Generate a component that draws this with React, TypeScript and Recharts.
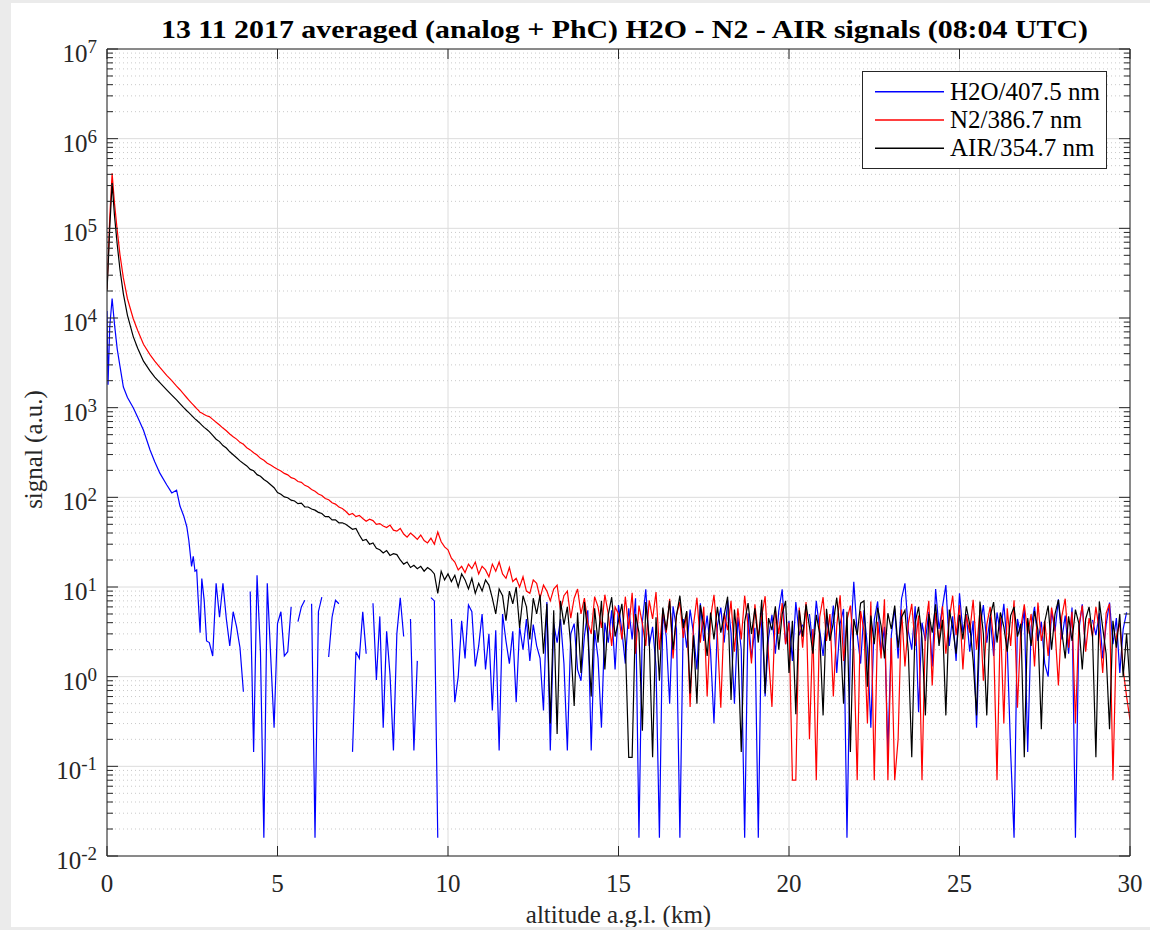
import React from 'react';
import { LineChart, Line, XAxis, YAxis, CartesianGrid } from 'recharts';

const TITLE = '13 11 2017 averaged (analog + PhC) H2O - N2 - AIR signals (08:04 UTC)';
const X_LABEL = 'altitude a.g.l. (km)';
const Y_LABEL = 'signal (a.u.)';
const X_TICKS = [0, 5, 10, 15, 20, 25, 30];
const Y_EXPONENTS = [-2, -1, 0, 1, 2, 3, 4, 5, 6, 7];
const MINOR_MULTIPLIERS = [2, 3, 4, 5, 6, 7, 8, 9];
const SERIES_NAMES = ['H2O/407.5 nm', 'N2/386.7 nm', 'AIR/354.7 nm'];
const SERIES_COLORS = ['#0000ff', '#ff0000', '#000000'];

// near-field altitudes (km)
const NEAR_ALT = [0, 0.03, 0.08, 0.15, 0.22, 0.3, 0.38, 0.48, 0.6, 0.77, 0.9, 1.07, 1.26, 1.4, 1.55, 1.75, 1.9, 2.04, 2.14, 2.25, 2.34, 2.4, 2.48, 2.53, 2.58, 2.63, 2.67, 2.73, 2.78, 2.85, 2.92];
// far-field range bins: 3.0 km to 30.0 km every 0.1 km
const FAR_START_KM = 3.0;
const FAR_STEP_KM = 0.1;

const H2O_NEAR = [12000, 1800, 8000, 16500, 8500, 4500, 2900, 1700, 1300, 1000, 780, 560, 340, 250, 186, 138, 112, 120, 80, 62, 47, 33, 17, 22, 15, 15.5, 7.8, 3.1, 12.4, 7.1, 2.5];
const N2_NEAR = [21000, 40000, 130000, 410000, 190000, 95000, 51000, 28000, 16400, 9800, 7250, 5100, 3900, 3300, 2820, 2290, 2000, 1740, 1585, 1413, 1290, 1216, 1122, 1072, 1023, 977, 944, 891, 871, 841, 813];
const AIR_NEAR = [20000, 35000, 100000, 320000, 138000, 66000, 34700, 18600, 10700, 6200, 4600, 3300, 2570, 2190, 1900, 1580, 1380, 1220, 1110, 1000, 923, 881, 822, 785, 750, 724, 700, 668, 638, 603, 575];

const H2O_FAR = [
  2.4, 1.7, 11, 4.6, 11, 4.4, 2.2, 5.3, 3.6, 2.1,
  0.68, null, 8.9, 0.145, 13.5, 1.9, 0.016, 11, 1.7, 0.27,
  3.9, 5.3, 1.7, 1.9, 6.0, null, 4.1, 6.0, 7.1, null,
  6.5, 0.016, 5.3, 7.7, null, 1.66, 4.6, 7.1, 6.5, null,
  2.4, null, 0.145, 1.9, 1.6, 5.3, 1.8, null, 6.6, 0.92,
  4.7, 0.27, 3.2, 1.05, 0.15, 3.0, 7.6, 2.8, null, 4.4,
  0.15, 1.5, null, null, null, 7.6, 7.0, 0.016, null, 4.0,
  null, 4.4, 0.52, 1.0, 4.2, 1.6, 6.3, 5.3, 1.3, 2.2,
  5.0, 1.2, 3.0, 0.42, 3.3, 0.15, 5.0, 2.5, 1.4, 3.2,
  0.52, 3.6, 2.0, 4.4, 1.5, 3.8, 2.2, 1.6, 0.42, 6.8,
  0.15, 3.9, 2.4, 4.4, 1.4, 0.15, 3.0, 3.9, 1.2, 0.9,
  2.8, 5.5, 0.15, 3.3, 1.6, 0.27, 4.0, 2.4, 5.5, 1.2,
  6.3, 3.2, 1.4, 5.8, 2.6, 7.5, 0.016, 4.1, 9.4, 2.2,
  3.6, 1.3, 0.016, 5.2, 2.8, 0.5, 6.1, 3.4, 0.016, 4.4,
  2.1, 5.6, 3.0, 1.2, 6.6, 2.5, 4.8, 1.9, 0.3, 3.7,
  5.9, 2.4, 7.2, 3.1, 0.5, 4.6, 2.0, 0.016, 5.1, 1.6,
  3.5, 0.016, 6.0, 0.6, 2.7, 4.9, 1.8, 5.4, 9.4, 2.3,
  4.2, 1.5, 6.8, 2.9, 3.8, null, 5.0, 2.2, 7.0, 3.3,
  1.7, 4.5, 2.6, 6.2, 1.1, 3.9, 5.7, 0.016, 2.4, 11.4,
  3.0, 1.4, 5.5, 2.1, 0.27, 4.3, 6.9, 1.8, 3.6, 0.145,
  2.9, 5.8, 1.6, 7.4, 11.0, 3.2, 2.0, 6.1, 0.4, 4.0,
  2.5, 5.3, 1.3, 9.5, 3.4, 6.0, 10.5, 2.2, 4.7, 1.5,
  8.5, 3.1, 5.0, 1.9, 4.2, 0.27, 3.5, 6.3, 2.4, 4.6,
  1.7, 5.2, 3.0, 6.5, 2.2, 0.145, 0.016, 4.4, 2.8, 5.7,
  0.145, 3.6, 6.0, 2.5, 4.1, 1.4, 1.0, 5.5, 3.2, 7.3,
  2.6, 4.8, 1.8, 5.9, 0.016, 3.3, 6.4, 2.0, null, 4.3,
  2.9, 5.1, 1.6, 3.8, 6.7, 2.3, 4.5, 1.1, 3.4, 5.2,
  null,
];

const N2_FAR = [
  795, 740, 688, 640, 592, 553, 508, 474, 446, 410,
  390, 358, 338, 314, 296, 272, 259, 240, 229, 216,
  206, 197, 185, 178, 166, 161, 150, 147, 136, 131,
  122, 117, 109, 105, 97, 94, 87, 84, 78, 75,
  70, 64, 66, 61, 63, 58, 54, 57, 55, 50,
  51, 48, 46, 49, 43, 42, 45, 39, 36, 40,
  37, 34, 38, 33, 31, 35, 30, 41, 32, 28,
  26, 21, 19, 15.5, 17, 14.5, 18, 16, 19, 14,
  17, 15.5, 13, 18, 15, 19, 14, 12.5, 16.5, 11.5,
  12.5, 10, 13, 9.0, 8.5, 12, 11, 7.5, 10.5, 9.0,
  7.0, 9.5, 10.5, 5.5, 8.0, 9.0, 4.5, 7.5, 9.5, 5.0,
  7.5, 4.0, 3.0, 7.8, 6.0, 3.5, 8.2, 5.0, 2.2, 6.0,
  5.0, 2.6, 7.8, 3.4, 8.6, 1.8, 6.2, 3.9, 2.2, 7.1,
  4.4, 8.8, 2.0, 5.6, 3.1, 7.4, 1.6, 4.9, 6.8, 2.7,
  5.3, 0.46, 3.8, 7.6, 2.4, 6.0, 0.6, 4.5, 8.2, 2.9,
  0.45, 5.1, 3.3, 7.0, 1.9, 5.8, 2.6, 8.0, 3.6, 1.4,
  6.4, 2.8, 4.7, 7.9, 1.7, 0.46, 5.5, 3.0, 6.6, 2.3,
  4.0, 0.07, 0.07, 5.9, 2.1, 6.8, 0.2, 3.4, 0.07, 4.6,
  7.7, 2.5, 5.0, 0.6, 3.7, 8.1, 1.5, 4.3, 6.2, 2.0,
  0.07, 5.4, 3.2, 0.3, 6.9, 0.07, 4.1, 1.6, 7.3, 0.07,
  2.7, 0.07, 0.2, 5.6, 1.3, 3.9, 6.5, 2.2, 4.8, 0.07,
  3.5, 7.0, 0.8, 5.2, 2.4, 6.1, 1.8, 4.4, 8.0, 2.9,
  6.3, 1.2, 4.9, 3.1, 7.2, 2.0, 5.5, 0.9, 3.8, 6.0,
  2.6, 0.07, 4.6, 0.3, 5.8, 2.2, 7.1, 0.45, 3.6, 6.4,
  3.0, 5.0, 1.3, 6.7, 2.5, 4.2, 1.7, 5.9, 3.4, 0.8,
  4.7, 7.4, 2.1, 5.3, 0.3, 3.7, 6.2, 1.9, 4.5, 2.8,
  6.0, 3.2, 1.1, 5.1, 6.5, 0.07, 2.8, 4.0, 1.2, 0.6,
  0.33,
];

const AIR_FAR = [
  540, 492, 445, 418, 378, 355, 322, 298, 276, 255,
  238, 224, 205, 198, 179, 172, 158, 149, 138, 128,
  113, 108, 101, 99, 93, 91, 85, 86, 78, 78,
  74, 72, 68, 66, 61, 61, 56, 56, 52, 52,
  50, 47, 44, 45, 38, 33, 34, 30, 31, 27,
  26, 24, 25.5, 22.5, 23.5, 23, 20, 18, 19, 16.5,
  17.5, 16, 17, 15, 16.5, 15.5, 14, 8.5, 15, 12,
  14, 11.5, 13.5, 10, 14, 12, 9.5, 12.5, 8.5, 11,
  9.0, 12, 10.5, 7.5, 5.0, 9.5, 8.0, 4.2, 9.0, 6.5,
  10, 3.5, 8.0, 6.0, 2.6, 7.5, 5.0, 8.2, 1.8, 6.5,
  0.3, 5.5, 0.23, 7.0, 3.8, 6.0, 2.2, 0.47, 5.2, 1.1,
  6.8, 3.0, 0.6, 5.8, 2.4, 7.0, 1.2, 4.9, 7.7, 2.8,
  4.2, 6.5, 2.4, 0.126, 0.126, 5.0, 3.1, 0.25, 6.8, 2.7,
  0.126, 4.6, 0.9, 5.9, 3.3, 7.0, 2.0, 4.8, 8.0, 3.5,
  5.4, 0.65, 2.9, 0.5, 6.3, 3.8, 1.7, 5.2, 2.6, 6.0,
  3.1, 4.9, 7.8, 0.55, 5.6, 2.2, 0.145, 4.1, 6.6, 3.0,
  5.8, 2.4, 7.2, 0.65, 4.5, 3.3, 6.1, 2.0, 5.0, 7.0,
  1.1, 4.2, 0.38, 5.5, 2.8, 6.4, 3.6, 1.8, 4.9, 3.0,
  0.37, 5.7, 2.5, 4.0, 7.6, 3.2, 0.5, 5.3, 0.145, 4.4,
  2.9, 6.6, 7.0, 0.77, 4.8, 2.3, 5.9, 3.7, 1.6, 5.1,
  3.4, 6.2, 2.1, 4.6, 5.5, 1.9, 0.126, 4.0, 6.0, 2.7,
  0.37, 5.0, 3.1, 6.4, 2.2, 4.3, 0.37, 5.6, 3.5, 1.8,
  4.9, 2.6, 6.1, 3.8, 1.5, 0.37, 6.9, 3.0, 0.37, 4.7,
  6.8, 2.4, 5.2, 3.6, 1.9, 4.8, 6.0, 2.8, 3.9, 0.126,
  4.5, 2.2, 5.4, 3.3, 0.26, 4.1, 6.2, 2.0, 5.0, 7.2,
  3.2, 1.6, 4.7, 2.5, 5.6, 3.9, 1.2, 4.4, 6.0, 2.9,
  0.126, 6.9, 3.5, 1.8, 0.26, 4.2, 2.1, 5.0, 1.0, 3.0,
  0.8,
];

const AXIS_COLOR = '#262626';
const FONT = "'Liberation Serif', 'Times New Roman', Times, serif";

function buildRows(near: number[], far: (number | null)[]) {
  const rows: { alt: number; v: number | null }[] = NEAR_ALT.map((alt, i) => ({ alt, v: near[i] }));
  far.forEach((v, i) => {
    rows.push({ alt: Math.round((FAR_START_KM + i * FAR_STEP_KM) * 100) / 100, v });
  });
  return rows;
}

const SERIES_ROWS = [
  buildRows(H2O_NEAR, H2O_FAR),
  buildRows(N2_NEAR, N2_FAR),
  buildRows(AIR_NEAR, AIR_FAR),
];

const DECADES = Y_EXPONENTS.map((e) => Math.pow(10, e));
const MINORS: number[] = [];
Y_EXPONENTS.slice(0, -1).forEach((e) => {
  MINOR_MULTIPLIERS.forEach((m) => MINORS.push(m * Math.pow(10, e)));
});
const ALL_Y_TICKS = [...DECADES, ...MINORS].sort((a, b) => a - b);

function decadeExponent(v: number): number | null {
  const l = Math.log10(v);
  const r = Math.round(l);
  return Math.abs(l - r) < 1e-6 ? r : null;
}

const LeftTick = (props: any) => {
  const { x, y, payload } = props;
  const exp = decadeExponent(payload.value);
  const major = exp !== null;
  return (
    <g>
      <line x1={x} x2={x + (major ? 11 : 6)} y1={y} y2={y} stroke={AXIS_COLOR} strokeWidth={1} />
      {major && (
        <text x={x - 10} y={y + 13} textAnchor="end" fontFamily={FONT} fontSize={25} fill={AXIS_COLOR}>
          10
          <tspan dy={-9} fontSize={19}>{String(exp)}</tspan>
        </text>
      )}
    </g>
  );
};

const RightTick = (props: any) => {
  const { x, y, payload } = props;
  const major = decadeExponent(payload.value) !== null;
  return <line x1={x} x2={x - (major ? 11 : 6)} y1={y} y2={y} stroke={AXIS_COLOR} strokeWidth={1} />;
};

const BottomTick = (props: any) => {
  const { x, y, payload } = props;
  return (
    <g>
      <line x1={x} x2={x} y1={y} y2={y - 10} stroke={AXIS_COLOR} strokeWidth={1} />
      <text x={x} y={y + 36} textAnchor="middle" fontFamily={FONT} fontSize={25} fill={AXIS_COLOR}>
        {payload.value}
      </text>
    </g>
  );
};

const TopTick = (props: any) => {
  const { x, y } = props;
  return <line x1={x} x2={x} y1={y} y2={y + 10} stroke={AXIS_COLOR} strokeWidth={1} />;
};

const renderTitle = (p: any) => {
  const vb = p.viewBox || { x: 107, y: 48, width: 1023, height: 1 };
  return (
    <text
      x={vb.x + vb.width / 2 + 6}
      y={vb.y - 10.5}
      textAnchor="middle"
      fontFamily={FONT}
      fontWeight="bold"
      fontSize={26}
      fill="#000"
      textLength={927}
      lengthAdjust="spacingAndGlyphs"
    >
      {TITLE}
    </text>
  );
};

const renderXLabel = (p: any) => {
  const vb = p.viewBox || { x: 107, y: 856, width: 1023, height: 74 };
  return (
    <text x={vb.x + vb.width / 2} y={vb.y + 67} textAnchor="middle" fontFamily={FONT} fontSize={25} fill={AXIS_COLOR}>
      {X_LABEL}
    </text>
  );
};

const renderYLabel = (p: any) => {
  const vb = p.viewBox || { x: 0, y: 49, width: 107, height: 807 };
  const cx = vb.x + 42;
  const cy = vb.y + vb.height / 2 - 3;
  return (
    <text
      x={cx}
      y={cy}
      transform={`rotate(-90, ${cx}, ${cy})`}
      textAnchor="middle"
      fontFamily={FONT}
      fontSize={25}
      fill={AXIS_COLOR}
    >
      {Y_LABEL}
    </text>
  );
};

const LegendBox = () => (
  <svg width={245} height={98} style={{ position: 'absolute', left: 862, top: 71 }}>
    <rect x={0.5} y={0.5} width={244} height={97} fill="#ffffff" stroke={AXIS_COLOR} strokeWidth={1} />
    {SERIES_NAMES.map((name, i) => {
      const cy = 20.7 + i * 28.3;
      return (
        <g key={name}>
          <line x1={13} x2={82} y1={cy} y2={cy} stroke={SERIES_COLORS[i]} strokeWidth={1.4} />
          <text x={88} y={cy + 8} fontFamily={FONT} fontSize={25} fill="#000">
            {name}
          </text>
        </g>
      );
    })}
  </svg>
);

export default function App() {
  return (
    <div style={{ position: 'absolute', left: 0, top: 0, width: 1150, height: 930, background: '#ebebeb', overflow: 'hidden' }}>
      <div style={{ position: 'absolute', left: 11, top: 3, width: 1139, height: 924, background: '#ffffff', overflow: 'hidden' }}>
        <div style={{ position: 'absolute', left: -11, top: -3 }}>
          <LineChart width={1150} height={930} margin={{ top: 48, right: 0, bottom: 0, left: 0 }}>
            <CartesianGrid
              horizontalValues={MINORS}
              vertical={false}
              stroke="#c9c9c9"
              strokeDasharray="1 3"
            />
            <CartesianGrid horizontalValues={DECADES} verticalValues={X_TICKS} stroke="#dcdcdc" />
            <XAxis
              dataKey="alt"
              type="number"
              domain={[0, 30]}
              ticks={X_TICKS}
              interval={0}
              allowDataOverflow
              height={74}
              tickSize={0}
              tickMargin={0}
              tickLine={false}
              tick={<BottomTick />}
              axisLine={{ stroke: AXIS_COLOR }}
              label={renderXLabel}
            />
            <XAxis
              xAxisId="top"
              orientation="top"
              dataKey="alt"
              type="number"
              domain={[0, 30]}
              ticks={X_TICKS}
              interval={0}
              allowDataOverflow
              height={1}
              tickSize={0}
              tickMargin={0}
              tickLine={false}
              tick={<TopTick />}
              axisLine={{ stroke: AXIS_COLOR }}
              label={renderTitle}
            />
            <YAxis
              type="number"
              scale="log"
              domain={[0.01, 1e7]}
              ticks={ALL_Y_TICKS}
              interval={0}
              allowDataOverflow
              width={107}
              tickSize={0}
              tickMargin={0}
              tickLine={false}
              tick={<LeftTick />}
              axisLine={{ stroke: AXIS_COLOR }}
              label={renderYLabel}
            />
            <YAxis
              yAxisId="right"
              orientation="right"
              type="number"
              scale="log"
              domain={[0.01, 1e7]}
              ticks={ALL_Y_TICKS}
              interval={0}
              allowDataOverflow
              width={20}
              tickSize={0}
              tickMargin={0}
              tickLine={false}
              tick={<RightTick />}
              axisLine={{ stroke: AXIS_COLOR }}
            />
            {SERIES_ROWS.map((rows, i) => (
              <Line
                key={SERIES_NAMES[i]}
                name={SERIES_NAMES[i]}
                data={rows}
                dataKey="v"
                type="linear"
                stroke={SERIES_COLORS[i]}
                strokeWidth={1.2}
                dot={false}
                activeDot={false}
                connectNulls={false}
                isAnimationActive={false}
              />
            ))}
          </LineChart>
        </div>
        <div style={{ position: 'absolute', left: -11, top: -3 }}>
          <LegendBox />
        </div>
      </div>
    </div>
  );
}
